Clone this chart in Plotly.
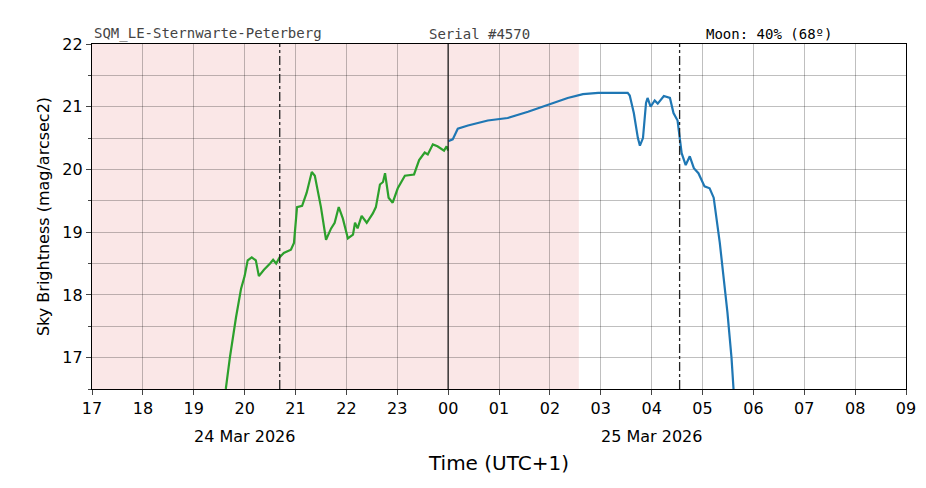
import plotly.graph_objects as go
from datetime import datetime, timedelta

base = datetime(2026, 3, 24, 17, 0)
green_t = [2.63,2.71,2.83,2.93,3.0,3.06,3.14,3.22,3.28,3.38,3.5,3.56,3.62,3.69,3.77,3.91,3.97,4.03,4.13,4.22,4.32,4.38,4.5,4.6,4.7,4.77,4.85,4.93,5.03,5.13,5.17,5.22,5.3,5.4,5.52,5.58,5.66,5.72,5.76,5.83,5.91,6.01,6.15,6.33,6.43,6.54,6.6,6.7,6.79,6.92,6.97,7.0]
green_v = [16.5,17.0,17.64,18.1,18.3,18.55,18.6,18.55,18.3,18.4,18.5,18.56,18.5,18.6,18.67,18.72,18.83,19.4,19.42,19.63,19.96,19.9,19.4,18.88,19.06,19.15,19.4,19.22,18.9,18.96,19.15,19.06,19.26,19.15,19.3,19.4,19.76,19.8,19.94,19.55,19.47,19.7,19.9,19.92,20.15,20.27,20.24,20.4,20.37,20.3,20.37,20.3]
blue_t = [7.0,7.09,7.19,7.39,7.78,8.17,8.57,8.96,9.35,9.65,9.95,10.3,10.53,10.57,10.65,10.73,10.77,10.83,10.89,10.92,10.98,11.06,11.12,11.24,11.36,11.43,11.51,11.59,11.67,11.75,11.83,11.92,12.04,12.14,12.22,12.34,12.42,12.49,12.57,12.61]
blue_v = [20.45,20.48,20.65,20.7,20.78,20.82,20.92,21.03,21.14,21.2,21.22,21.22,21.22,21.18,20.9,20.5,20.38,20.5,21.06,21.14,21.0,21.1,21.05,21.17,21.14,20.9,20.78,20.26,20.07,20.21,20.02,19.94,19.73,19.7,19.55,18.83,18.28,17.72,17.0,16.5]
night_end = 9.57
moon_lines = [3.69, 11.55]
date_labels = ["24 Mar 2026", "25 Mar 2026"]

T = lambda h: base + timedelta(hours=h)
fig = go.Figure()
fig.add_trace(go.Scatter(x=[T(h) for h in green_t], y=green_v, mode="lines", line=dict(color="#2ca02c", width=2.2)))
fig.add_trace(go.Scatter(x=[T(h) for h in blue_t], y=blue_v, mode="lines", line=dict(color="#1f77b4", width=2.2)))
fig.add_vrect(x0=T(0), x1=T(night_end), fillcolor="rgba(230,120,120,0.18)", line_width=0, layer="below")
for m in moon_lines:
    fig.add_vline(x=T(m), line=dict(color="#222", width=1.3, dash="dashdot"))
fig.add_vline(x=T(7), line=dict(color="#222", width=1.3))
mono = dict(family="DejaVu Sans Mono", size=14, color="#444")
fig.add_annotation(text="SQM_LE-Sternwarte-Peterberg", x=0, y=1.0, xref="paper", yref="paper", xanchor="left", yanchor="bottom", showarrow=False, font=mono)
fig.add_annotation(text="Serial #4570", x=0.412, y=1.0, xref="paper", yref="paper", xanchor="left", yanchor="bottom", showarrow=False, font=mono)
fig.add_annotation(text="Moon: 40% (68º)", x=0.752, y=1.0, xref="paper", yref="paper", xanchor="left", yanchor="bottom", showarrow=False, font=dict(family="DejaVu Sans Mono", size=14, color="#000"))
for lbl, h in zip(date_labels, [3, 11]):
    fig.add_annotation(text=lbl, x=T(h), y=-0.105, xref="x", yref="paper", yanchor="top", showarrow=False, font=dict(family="DejaVu Sans", size=16, color="#000"))
fig.update_layout(
    width=926, height=488, margin=dict(l=84, r=28, t=36, b=107, autoexpand=False),
    plot_bgcolor="white", paper_bgcolor="white", showlegend=False,
    font=dict(family="DejaVu Sans", size=16, color="#000"),
)
fig.update_xaxes(range=[T(0), T(16)], dtick=3600000, tickformat="%H", showgrid=True, gridcolor="rgba(0,0,0,0.25)",
                 ticks="outside", ticklen=5, showline=True, linecolor="#000", mirror=True, linewidth=1.3, automargin=False,
                 title=dict(text="Time (UTC+1)", font=dict(size=20), standoff=38))
fig.update_yaxes(range=[16.5, 22], dtick=1, showgrid=True, gridcolor="rgba(0,0,0,0.25)",
                 minor=dict(dtick=0.5, showgrid=True, gridcolor="rgba(0,0,0,0.25)", ticks="outside", ticklen=3),
                 ticks="outside", ticklen=5, showline=True, linecolor="#000", mirror=True, linewidth=1.3, automargin=False,
                 title=dict(text="Sky Brightness (mag/arcsec2)", font=dict(size=16), standoff=8))
fig.write_html("out.html")
